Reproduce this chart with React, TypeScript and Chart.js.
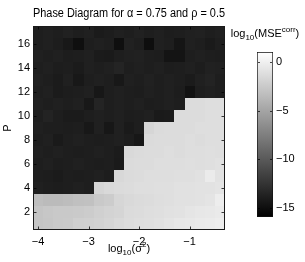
import React, { useEffect, useRef } from "react";
import { Chart, registerables } from "chart.js";

Chart.register(...registerables);

// ---------- data ----------
const logSigma2 = [-4.0, -3.8, -3.6, -3.4, -3.2, -3.0, -2.8, -2.6, -2.4, -2.2, -2.0, -1.8, -1.6, -1.4, -1.2, -1.0, -0.8, -0.6, -0.4];
const pValues = [1, 2, 3, 4, 5, 6, 7, 8, 9, 10, 11, 12, 13, 14, 15, 16, 17];
const xTicks = [-4, -3, -2, -1];
const yTicks = [2, 4, 6, 8, 10, 12, 14, 16];
const cbarTicks = [-15, -10, -5, 0];
const colorMin = -15.9;
const colorMax = 1.0;

// log10(MSE_corr), rows from P = 17 (top) down to P = 1 (bottom)
const row17 = [-13.9, -13.8, -13.9, -13.7, -13.9, -13.8, -14.1, -14.0, -13.8, -13.9, -13.7, -13.9, -13.8, -14.0, -13.9, -13.8, -13.7, -13.9, -13.8];
const row16 = [-13.9, -13.8, -14.0, -14.3, -14.9, -13.9, -13.8, -13.9, -14.9, -13.7, -13.9, -15.0, -13.8, -13.9, -14.5, -13.8, -13.9, -14.2, -13.9];
const row15 = [-13.8, -13.9, -13.8, -14.0, -13.9, -13.8, -14.1, -14.2, -13.9, -13.8, -13.7, -13.9, -14.0, -14.6, -14.6, -13.9, -13.8, -13.9, -14.0];
const row14 = [-13.9, -13.8, -14.0, -13.9, -14.1, -13.8, -13.9, -13.8, -13.5, -13.9, -13.8, -13.9, -13.8, -14.0, -13.9, -13.8, -14.0, -13.7, -13.8];
const row13 = [-13.8, -13.9, -14.1, -13.8, -14.3, -13.9, -13.8, -13.9, -14.3, -13.8, -13.9, -13.7, -13.9, -13.8, -13.9, -14.1, -13.8, -13.6, -13.9];
const row12 = [-13.9, -13.8, -14.1, -14.0, -13.9, -13.8, -14.4, -13.9, -13.8, -13.9, -14.0, -13.8, -13.9, -13.8, -14.0, -14.7, -13.9, -13.8, -13.9];
const row11 = [-13.8, -13.9, -13.8, -13.9, -13.8, -14.3, -13.5, -13.9, -13.8, -13.9, -13.8, -14.0, -13.9, -13.8, -13.9, -1.3, -1.3, -1.2, -1.2];
const row10 = [-13.9, -13.6, -13.9, -14.1, -14.1, -13.9, -13.8, -13.9, -13.8, -14.0, -13.9, -13.8, -14.2, -14.1, -1.3, -1.3, -1.3, -1.2, -1.2];
const row9 = [-13.8, -13.9, -13.9, -14.0, -13.9, -14.3, -13.8, -14.4, -13.8, -14.2, -13.9, -1.7, -1.4, -1.3, -1.3, -1.3, -1.2, -1.2, -1.2];
const row8 = [-13.9, -13.8, -14.2, -13.9, -13.8, -13.9, -14.0, -13.9, -13.8, -14.0, -14.4, -1.4, -1.3, -1.3, -1.3, -1.2, -1.3, -1.2, -1.2];
const row7 = [-13.8, -13.9, -13.8, -13.9, -14.0, -13.9, -13.8, -13.9, -14.1, -1.5, -1.4, -1.3, -1.3, -1.2, -1.3, -1.2, -1.2, -1.1, -1.2];
const row6 = [-13.9, -13.8, -14.0, -13.9, -13.8, -13.9, -14.0, -13.9, -14.2, -1.4, -1.3, -1.3, -1.2, -1.2, -1.2, -1.1, -1.2, -1.1, -1.0];
const row5 = [-13.9, -14.0, -14.1, -13.9, -14.0, -13.9, -13.8, -14.0, -1.6, -1.4, -1.3, -1.2, -1.2, -1.2, -1.1, -1.1, -1.0, -0.3, -0.9];
const row4 = [-13.8, -13.9, -14.0, -13.9, -13.8, -13.9, -1.8, -1.5, -1.4, -1.3, -1.2, -1.2, -1.1, -1.1, -1.0, -1.0, -0.9, -0.9, -0.8];
const row3 = [-3.3, -3.5, -3.5, -3.4, -3.2, -3.1, -2.6, -2.4, -1.7, -1.5, -1.4, -1.3, -1.2, -1.1, -1.0, -1.0, -0.9, -0.8, -0.2];
const row2 = [-2.9, -2.7, -2.6, -2.6, -2.5, -2.4, -2.1, -1.9, -1.8, -1.4, -1.3, -1.2, -1.1, -1.0, -0.9, -0.7, -0.6, -0.5, -0.4];
const row1 = [-2.9, -2.8, -2.6, -2.5, -2.2, -2.1, -2.0, -1.8, -1.5, -1.3, -1.2, -1.1, -1.0, -0.8, -0.6, -0.5, -0.4, -0.3, -0.2];
const mseRowsTopDown = [row17, row16, row15, row14, row13, row12, row11, row10, row9, row8, row7, row6, row5, row4, row3, row2, row1];

const titleText = "Phase Diagram for α = 0.75 and ρ = 0.5";
const yTitleText = "P";
// rich labels: [text, kind] where kind is "n" normal, "sub" subscript, "sup" superscript
const xTitleParts: [string, string][] = [["log", "n"], ["10", "sub"], ["(σ", "n"], ["2", "sup"], [")", "n"]];
const cbarTitleParts: [string, string][] = [["log", "n"], ["10", "sub"], ["(MSE", "n"], ["corr", "sup"], [")", "n"]];

const FONT = "'Liberation Sans', Arial, Helvetica, sans-serif";

const fmtTick = (v: number | string) => String(v).replace("-", "\u2212");

function grayFor(v: number) {
  const t = Math.max(0, Math.min(1, (v - colorMin) / (colorMax - colorMin)));
  const g = Math.round(t * 255);
  return `rgb(${g},${g},${g})`;
}

function drawRich(ctx: CanvasRenderingContext2D, parts: [string, string][], cx: number, baseline: number, size: number) {
  const small = Math.round(size * 0.72);
  const spec = parts.map(([t, k]) => {
    const fs = k === "n" ? size : small;
    const dy = k === "sub" ? 3 : k === "sup" ? -5 : 0;
    ctx.font = `${fs}px ${FONT}`;
    return { t, fs, dy, w: ctx.measureText(t).width };
  });
  const total = spec.reduce((a, s) => a + s.w, 0);
  let x = cx - total / 2;
  ctx.fillStyle = "#000";
  ctx.textBaseline = "alphabetic";
  ctx.textAlign = "left";
  for (const s of spec) {
    ctx.font = `${s.fs}px ${FONT}`;
    ctx.fillText(s.t, x, baseline + s.dy);
    x += s.w;
  }
}

const heatmapPlugin = {
  id: "heatmapCells",
  beforeDatasetsDraw(chart: any) {
    const ds = chart.data.datasets[0];
    const xs = chart.scales.x;
    const ys = chart.scales.y;
    const hx = (logSigma2[1] - logSigma2[0]) / 2;
    const hy = (pValues[1] - pValues[0]) / 2;
    const ctx = chart.ctx;
    ctx.save();
    for (const pt of ds.data) {
      const x0 = Math.round(xs.getPixelForValue(pt.x - hx));
      const x1 = Math.round(xs.getPixelForValue(pt.x + hx));
      const y0 = Math.round(ys.getPixelForValue(pt.y + hy));
      const y1 = Math.round(ys.getPixelForValue(pt.y - hy));
      ctx.fillStyle = grayFor(pt.v);
      ctx.fillRect(x0, y0, x1 - x0, y1 - y0);
    }
    ctx.restore();
  },
  afterDatasetsDraw(chart: any) {
    const { left, right, top, bottom } = chart.chartArea;
    const xs = chart.scales.x;
    const ys = chart.scales.y;
    const ctx = chart.ctx;
    ctx.save();
    ctx.strokeStyle = "rgba(0,0,0,0.75)";
    ctx.lineWidth = 1;
    ctx.beginPath();
    const L = Math.round(left) + 0.5, R = Math.round(right) - 0.5;
    const T = Math.round(top) + 0.5, B = Math.round(bottom) - 0.5;
    for (const v of xTicks) {
      const x = Math.round(xs.getPixelForValue(v)) + 0.5;
      ctx.moveTo(x, B); ctx.lineTo(x, B - 3);
      ctx.moveTo(x, T); ctx.lineTo(x, T + 3);
    }
    for (const v of yTicks) {
      const y = Math.round(ys.getPixelForValue(v)) + 0.5;
      ctx.moveTo(L, y); ctx.lineTo(L + 3, y);
      ctx.moveTo(R, y); ctx.lineTo(R - 3, y);
    }
    ctx.stroke();
    ctx.strokeStyle = "#1a1a1a";
    ctx.strokeRect(L, T, R - L, B - T);
    ctx.restore();
    // x-axis title with sub/superscripts
    ctx.save();
    drawRich(ctx, xTitleParts, (left + right) / 2, 252, 11);
    ctx.restore();
  },
};

const cbarPlugin = {
  id: "cbarDecor",
  afterDatasetsDraw(chart: any) {
    const { left, right } = chart.chartArea;
    const ys = chart.scales.y;
    const ctx = chart.ctx;
    ctx.save();
    ctx.strokeStyle = "rgba(0,0,0,0.7)";
    ctx.lineWidth = 1;
    ctx.beginPath();
    for (const v of cbarTicks) {
      const y = Math.round(ys.getPixelForValue(v)) + 0.5;
      ctx.moveTo(left + 1, y); ctx.lineTo(left + 3, y);
      ctx.moveTo(right - 1, y); ctx.lineTo(right - 3, y);
    }
    ctx.stroke();
    ctx.restore();
    ctx.save();
    drawRich(ctx, cbarTitleParts, (left + right) / 2, 37, 11);
    ctx.restore();
  },
};

export default function App() {
  const mainRef = useRef<HTMLCanvasElement | null>(null);
  const cbarRef = useRef<HTMLCanvasElement | null>(null);

  useEffect(() => {
    Chart.defaults.font.family = FONT;
    Chart.defaults.color = "#000";

    const points: any[] = [];
    const nRows = mseRowsTopDown.length;
    mseRowsTopDown.forEach((row, r) => {
      const p = pValues[nRows - 1 - r];
      row.forEach((v, c) => points.push({ x: logSigma2[c], y: p, v }));
    });
    const hx = (logSigma2[1] - logSigma2[0]) / 2;
    const hy = (pValues[1] - pValues[0]) / 2;

    const main = new Chart(mainRef.current as HTMLCanvasElement, {
      type: "scatter",
      data: { datasets: [{ data: points, pointRadius: 0, pointHoverRadius: 0 }] },
      options: {
        animation: false,
        responsive: false,
        maintainAspectRatio: false,
        events: [],
        layout: { padding: { left: 0, right: 80, top: 0, bottom: 0 } },
        plugins: {
          legend: { display: false },
          tooltip: { enabled: false },
          title: {
            display: true,
            text: titleText,
            fullSize: false,
            color: "#000",
            font: { size: 12, weight: "normal", family: FONT },
            padding: { top: 6, bottom: 5.6 },
          },
        },
        scales: {
          x: {
            type: "linear",
            min: logSigma2[0] - hx,
            max: logSigma2[logSigma2.length - 1] + hx,
            afterBuildTicks: (s: any) => { s.ticks = xTicks.map((v) => ({ value: v })); },
            afterFit: (s: any) => { s.height = 32; },
            grid: { display: false, drawTicks: false },
            border: { display: false },
            ticks: { padding: 5, color: "#000", font: { size: 11, family: FONT }, maxRotation: 0, autoSkip: false, callback: (v: any) => fmtTick(v) },
          },
          y: {
            type: "linear",
            min: pValues[0] - hy,
            max: pValues[pValues.length - 1] + hy,
            afterBuildTicks: (s: any) => { s.ticks = yTicks.map((v) => ({ value: v })); },
            afterFit: (s: any) => { s.width = 33; },
            grid: { display: false, drawTicks: false },
            border: { display: false },
            ticks: { padding: 3, color: "#000", font: { size: 11, family: FONT }, autoSkip: false, callback: (v: any) => fmtTick(v) },
            title: { display: true, text: yTitleText, color: "#000", font: { size: 11, family: FONT }, padding: { top: 1.5, bottom: 0 } },
          },
        },
      } as any,
      plugins: [heatmapPlugin],
    });

    const cbar = new Chart(cbarRef.current as HTMLCanvasElement, {
      type: "bar",
      data: {
        labels: [""],
        datasets: [
          {
            data: [[colorMin, colorMax]] as any,
            backgroundColor: (c: any) => {
              const ch = c.chart;
              const ys = ch.scales.y;
              if (!ch.chartArea || !ys) return "#888";
              const g = ch.ctx.createLinearGradient(0, ys.getPixelForValue(colorMin), 0, ys.getPixelForValue(colorMax));
              g.addColorStop(0, "#000");
              g.addColorStop(1, "#fff");
              return g;
            },
            borderColor: "#111",
            borderWidth: 1,
            borderSkipped: false,
            barPercentage: 1,
            categoryPercentage: 1,
          },
        ],
      },
      options: {
        animation: false,
        responsive: false,
        maintainAspectRatio: false,
        events: [],
        layout: { padding: { left: 32, right: 0, top: 52, bottom: 45 } },
        plugins: {
          legend: { display: false },
          tooltip: { enabled: false },
          title: { display: false },
        },
        scales: {
          x: { display: false },
          y: {
            type: "linear",
            position: "right",
            min: colorMin,
            max: colorMax,
            afterBuildTicks: (s: any) => { s.ticks = cbarTicks.map((v) => ({ value: v })); },
            afterFit: (s: any) => { s.width = 32; },
            grid: { display: false, drawTicks: false },
            border: { display: false },
            ticks: { padding: 3, color: "#000", font: { size: 11, family: FONT }, autoSkip: false, callback: (v: any) => fmtTick(v) },
          },
        },
      } as any,
      plugins: [cbarPlugin],
    });

    return () => {
      main.destroy();
      cbar.destroy();
    };
  }, []);

  return (
    <div style={{ position: "absolute", left: 0, top: 0, width: 305, height: 262, background: "#fff" }}>
      <canvas ref={mainRef} width={305} height={262} style={{ position: "absolute", left: 0, top: 0, display: "block" }} />
      <canvas ref={cbarRef} width={80} height={262} style={{ position: "absolute", left: 225, top: 0, display: "block" }} />
    </div>
  );
}
